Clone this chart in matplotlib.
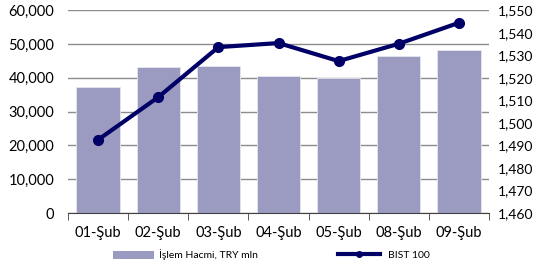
import matplotlib.pyplot as plt
from matplotlib.ticker import FuncFormatter, FixedLocator
from matplotlib.lines import Line2D
from matplotlib.patches import Patch

plt.rcParams['font.family'] = ['Lato', 'DejaVu Sans']

days = ['01-Şub', '02-Şub', '03-Şub', '04-Şub', '05-Şub', '08-Şub', '09-Şub']
volume = [37200, 43100, 43500, 40600, 40000, 46400, 48300]
bist100 = [1492.5, 1511.4, 1533.6, 1535.4, 1527.4, 1535.1, 1544.4]

bar_col = '#9b9bc2'
line_col = '#000066'

fig = plt.figure(figsize=(5.44, 2.67), dpi=100)
ax = fig.add_axes([0.125, 0.202, 0.774, 0.76])
x = list(range(len(days)))
ax.bar(x, volume, width=0.72, color=bar_col, edgecolor='#e6e6f0', linewidth=0.6, zorder=2)
ax.set_xlim(-0.5, len(days) - 0.5)
ax.set_ylim(0, 60000)
ax.set_yticks(range(0, 60001, 10000))
ax.yaxis.set_major_formatter(FuncFormatter(lambda v, p: f'{int(v):,}'))
ax.grid(axis='y', color='#8c8c8c', linewidth=1.0, zorder=0)
ax.set_axisbelow(True)
for s in ['top', 'right', 'left']:
    ax.spines[s].set_visible(False)
ax.spines['bottom'].set_color('#404040')
ax.set_xticks(x)
ax.set_xticklabels(days)
ax.tick_params(axis='x', length=0, labelsize=10.5, pad=9)
ax.xaxis.set_minor_locator(FixedLocator([i - 0.5 for i in range(len(days) + 1)]))
ax.tick_params(axis='x', which='minor', length=5, color='#404040', direction='out')
ax.tick_params(axis='y', length=0, labelsize=10.5, pad=10)

ax2 = ax.twinx()
ax2.plot(x, bist100, color=line_col, linewidth=3, marker='o', markersize=7, zorder=3)
ax2.set_ylim(1460, 1550)
ax2.set_yticks(range(1460, 1551, 10))
ax2.yaxis.set_major_formatter(FuncFormatter(lambda v, p: f'{int(v):,}'))
ax2.tick_params(axis='y', length=0, labelsize=10, pad=6)
for s in ax2.spines.values():
    s.set_visible(False)

handles = [Patch(facecolor=bar_col, edgecolor='none'),
           Line2D([0], [0], color=line_col, linewidth=3, marker='o', markersize=4)]
fig.legend(handles[:1], ['İşlem Hacmi, TRY mln'], loc='center left',
           bbox_to_anchor=(0.19, 0.045), frameon=False, fontsize=7.5,
           handlelength=4.0, handleheight=0.9, handletextpad=0.4)
fig.legend(handles[1:], ['BIST 100'], loc='center left',
           bbox_to_anchor=(0.605, 0.045), frameon=False, fontsize=7.5,
           handlelength=4.0, handletextpad=0.8)

fig.savefig('out.png', dpi=100)
